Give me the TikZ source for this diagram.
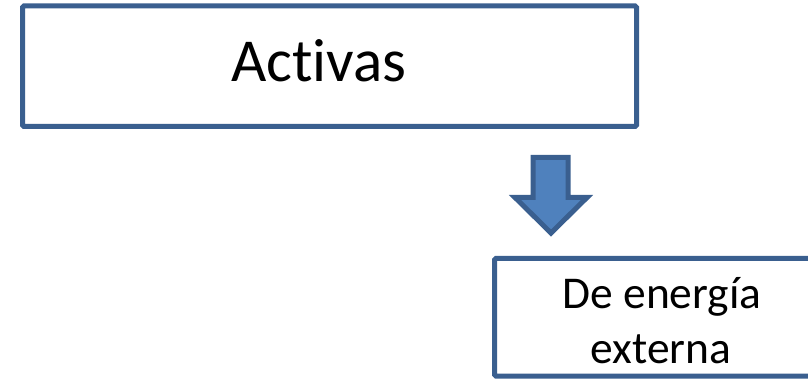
\documentclass[tikz,border=0pt]{standalone}
\usepackage{fontspec}
\setmainfont[Ligatures=NoCommon]{Carlito}
\definecolor{frameblue}{HTML}{3A5F8F}
\definecolor{arrowfill}{HTML}{4F81BD}
\begin{document}
\begin{tikzpicture}[x=1pt,y=-1pt,
  framebox/.style={draw=frameblue,line width=5pt,rounded corners=1.5pt,fill=white},
  bigtext/.style={font=\fontsize{61}{73}\selectfont,anchor=base,inner sep=0pt},
  midtext/.style={font=\fontsize{45.5}{55}\selectfont,anchor=base,inner sep=0pt},
  blockarrow/.style={draw=frameblue,line width=5pt,line join=miter,fill=arrowfill}]
  \useasboundingbox (0,0) rectangle (808,379);
  % upper box
  \draw[framebox] (22.5,6) rectangle (636.5,126.5);
  \node[bigtext] (activas) at (319,81.5) {Activas};
  % down arrow
  \draw[blockarrow] (533,157.5) -- (568,157.5) -- (568,197.5) -- (587,197.5)
    -- (551,233) -- (515,197.5) -- (533,197.5) -- cycle;
  % lower box (runs past the right edge)
  \draw[framebox] (494.5,258.5) rectangle (840,376);
  \node[midtext] (l1) at (662,308.5) {De energía};
  \node[midtext] (l2) at (661,363.5) {externa};
\end{tikzpicture}
\end{document}
